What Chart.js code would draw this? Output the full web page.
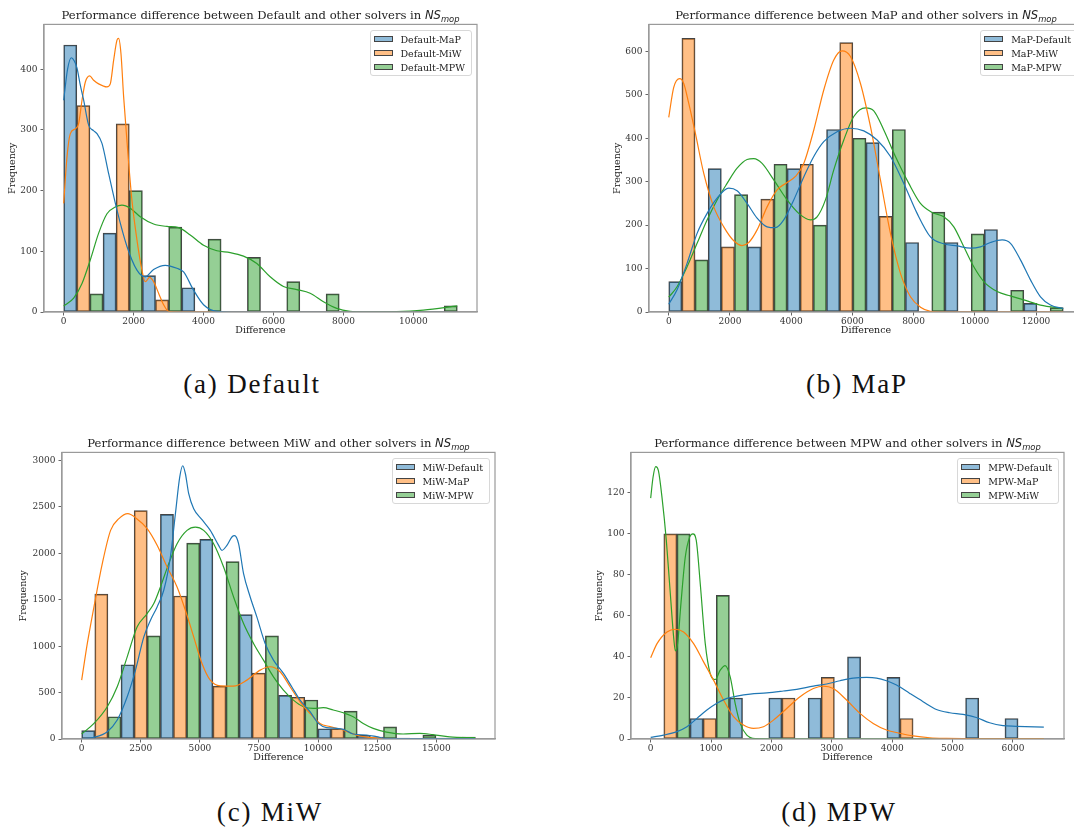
<!DOCTYPE html>
<html><head><meta charset="utf-8">
<script src="https://cdn.jsdelivr.net/npm/chart.js@4.4.1/dist/chart.umd.min.js"></script>
<style>
html,body{margin:0;padding:0;width:1074px;height:830px;overflow:hidden;background:#fff;}
body{position:relative;}
.box{position:absolute;}
.title{position:absolute;font-family:'DejaVu Serif';font-size:11.6px;color:#222;white-space:nowrap;transform:translate(-50%,-50%);line-height:1;}
.title .m{font-family:'DejaVu Sans';font-style:italic;}
.title sub{font-size:72%;vertical-align:-0.3em;line-height:0;}
.cap{position:absolute;font-family:'Liberation Serif';font-size:27px;letter-spacing:1.8px;color:#111;white-space:nowrap;transform:translate(-50%,-50%);line-height:1;}
.legend{position:absolute;background:rgba(255,255,255,0.85);border:1px solid #d8d8d8;border-radius:3px;padding:1px 6px 1px 3px;font-family:'DejaVu Serif';font-size:9.5px;color:#222;}
.legend .row{display:flex;align-items:center;height:14px;white-space:nowrap;}
.legend .sw{width:19px;height:6px;border:1px solid #444;margin-right:8px;box-sizing:border-box;}
</style>
</head><body>
<script>
// ---------- shared ----------
const fillColors = ['rgba(31,119,180,0.5)','rgba(255,127,14,0.5)','rgba(44,160,44,0.5)'];
const lineColors = ['#1f77b4','#ff7f0e','#2ca02c'];

// ---------- (a) Default ----------
const titleA = 'Default';
const labelsA = ['Default-MaP','Default-MiW','Default-MPW'];
const edgesA = [0,1126,2251,3377,4503,5629,6754,7880,9006,10131,11257];
const countsA1 = [440,130,60,40,0,0,0,0,0,0];
const countsA2 = [340,310,20,0,0,0,0,0,0,0];
const countsA3 = [30,200,140,120,90,50,30,0,0,10];
const kdeA1 = [[0,349],[110,400],[219,419],[300,414],[381,402],[471,375],[571,349],[714,308],[852,299],[952,294],[1095,278],[1286,228],[1524,168],[1810,108],[2095,69],[2333,58],[2571,70],[2905,77],[3238,72],[3429,66],[3714,36],[4000,12],[4381,1],[4800,0],[11257,0]];
const kdeA2 = [[0,179],[95,256],[190,294],[333,302],[429,311],[524,349],[619,379],[743,389],[857,382],[1000,376],[1238,371],[1333,376],[1429,415],[1524,448],[1571,451],[1638,426],[1714,355],[1829,267],[1952,184],[2095,119],[2238,69],[2333,50],[2457,57],[2571,50],[2714,31],[2857,12],[3000,1],[3300,0],[11257,0]];
const kdeA3 = [[0,10],[286,23],[524,47],[762,86],[1000,130],[1238,162],[1476,173],[1667,176],[1905,171],[2190,157],[2571,145],[2952,141],[3286,139],[3619,127],[4000,110],[4381,101],[4762,98],[5143,92],[5524,80],[5905,58],[6286,42],[6667,37],[7048,31],[7429,17],[7810,6],[8190,1],[8571,0],[9524,0.5],[10286,3],[11257,10]];
const xRangeA = [-563,11820], yMaxA = 474;
const xTicksA = [0,2000,4000,6000,8000,10000];
const yTicksA = [0,100,200,300,400];

// ---------- (b) MaP ----------
const titleB = 'MaP';
const labelsB = ['MaP-Default','MaP-MiW','MaP-MPW'];
const edgesB = [0,1289,2578,3867,5156,6445,7734,9023,10312,11601,12890];
const countsB1 = [70,330,150,330,420,390,160,160,190,20];
const countsB2 = [630,150,260,340,620,220,0,0,0,0];
const countsB3 = [120,270,340,200,400,420,230,180,50,10];
const kdeB1 = [[0,18],[272,51],[599,112],[926,181],[1253,227],[1580,262],[1961,285],[2233,279],[2560,250],[2887,216],[3214,196],[3486,194],[3758,212],[4085,258],[4412,311],[4739,358],[5065,392],[5501,415],[5937,423],[6373,417],[6808,396],[7244,358],[7680,296],[8115,227],[8551,173],[8987,157],[9423,152],[9858,147],[10185,150],[10512,160],[10893,166],[11166,158],[11492,120],[11819,74],[12146,35],[12473,16],[12887,8]];
const kdeB2 = [[0,448],[163,517],[359,537],[490,526],[654,480],[871,411],[1144,319],[1471,242],[1797,196],[2124,164],[2397,153],[2614,160],[2887,189],[3214,242],[3540,281],[3867,298],[4139,312],[4412,342],[4739,419],[5065,511],[5392,580],[5664,601],[5937,588],[6264,526],[6590,427],[6917,304],[7244,181],[7571,89],[7898,35],[8224,11],[8551,1.5],[8878,0],[12890,0]];
const kdeB3 = [[0,34],[272,58],[599,104],[926,158],[1253,212],[1580,258],[1906,296],[2233,331],[2560,351],[2778,353],[3050,342],[3431,304],[3867,258],[4248,227],[4630,212],[4847,219],[5120,258],[5392,327],[5719,396],[6046,450],[6427,470],[6699,463],[7026,419],[7407,358],[7843,296],[8224,250],[8606,229],[8987,219],[9314,196],[9641,150],[9967,104],[10294,70],[10730,47],[11166,37],[11601,28],[12146,16],[12887,8]];
const xRangeB = [-645,13535], yMaxB = 662;
const xTicksB = [0,2000,4000,6000,8000,10000,12000];
const yTicksB = [0,100,200,300,400,500,600];

// ---------- (c) MiW ----------
const titleC = 'MiW';
const labelsC = ['MiW-Default','MiW-MaP','MiW-MPW'];
const edgesC = [0,1665,3330,4995,6660,8325,9990,11655,13320,14985,16650];
const countsC1 = [90,800,2420,2150,1340,470,110,40,10,10];
const countsC2 = [1560,2460,1540,570,710,450,110,20,0,0];
const countsC3 = [240,1110,2110,1910,1110,420,300,130,40,20];
const kdeC1 = [[0,0],[520,18],[1083,79],[1504,204],[1926,455],[2277,742],[2629,1100],[2910,1280],[3191,1423],[3472,1602],[3753,1961],[3965,2427],[4147,2821],[4274,2943],[4387,2857],[4527,2642],[4738,2480],[5089,2362],[5440,2247],[5792,2086],[5932,2032],[6143,2086],[6354,2176],[6467,2190],[6636,2104],[6847,1781],[7128,1530],[7409,1315],[7760,1029],[8112,849],[8534,706],[8885,563],[9237,419],[9658,294],[10010,168],[10361,122],[10783,115],[11134,97],[11486,54],[12048,43],[12470,25],[12892,4],[14298,4],[16646,3]];
const kdeC2 = [[0,634],[239,1029],[520,1423],[872,1889],[1223,2247],[1575,2373],[1954,2427],[2277,2384],[2770,2265],[3191,2086],[3613,1853],[4035,1638],[4387,1387],[4738,1100],[5089,814],[5440,634],[5862,573],[6425,570],[6987,634],[7550,742],[7971,778],[8393,724],[8815,563],[9237,401],[9658,276],[10080,168],[10502,133],[10924,108],[11345,68],[11767,32],[12189,18],[12751,4],[14298,0],[16646,0]];
const kdeC3 = [[0,54],[520,168],[1083,348],[1504,563],[1926,885],[2348,1208],[2770,1351],[3051,1459],[3332,1638],[3683,1889],[4035,2104],[4457,2247],[4808,2283],[5160,2247],[5581,2104],[6003,1853],[6425,1530],[6847,1244],[7269,1029],[7690,849],[8112,670],[8534,527],[8956,419],[9377,348],[9799,330],[10221,337],[10643,312],[11064,283],[11486,240],[11908,168],[12330,115],[12892,75],[13595,54],[14298,61],[14860,47],[15563,22],[16646,14]];
const xRangeC = [-832,17482], yMaxC = 3087;
const xTicksC = [0,2500,5000,7500,10000,12500,15000];
const yTicksC = [0,500,1000,1500,2000,2500,3000];

// ---------- (d) MPW ----------
const titleD = 'MPW';
const labelsD = ['MPW-Default','MPW-MaP','MPW-MiW'];
const edgesD = [0,652,1304,1956,2608,3260,3912,4564,5216,5868,6520];
const countsD1 = [0,10,20,20,20,40,30,0,20,10];
const countsD2 = [100,10,0,20,30,0,10,0,0,0];
const countsD3 = [100,70,0,0,0,0,0,0,0,0];
const kdeD1 = [[0,0.8],[215,1.9],[435,3.6],[601,6],[766,10],[931,14.1],[1096,17.4],[1262,19.8],[1427,20.9],[1647,21.9],[1923,22.5],[2198,23.4],[2419,24.2],[2694,25.8],[2915,26.8],[3135,28.4],[3355,29.7],[3576,30],[3741,29.7],[3906,28.4],[4072,26.3],[4292,22.2],[4512,18.2],[4733,14.4],[4953,12.8],[5174,12],[5394,10.5],[5614,7.9],[5835,6.5],[6055,6.2],[6512,5.8]];
const kdeD2 = [[0,39.6],[105,46.5],[270,52.2],[408,53.5],[545,52.2],[711,46.5],[876,37.6],[1041,28.7],[1207,19],[1372,10.9],[1537,6.8],[1702,5.2],[1868,6],[2033,9.2],[2253,14.9],[2474,20.6],[2694,24.6],[2860,25.8],[3025,24.6],[3245,19],[3466,12.5],[3686,7.6],[3906,4.4],[4127,2.8],[4347,1.5],[4623,0.6],[4898,0.3],[5449,0.1],[6512,0.1]];
const kdeD3 = [[0,117.4],[39,127.6],[83,132.8],[127,130.9],[187,117.9],[259,96.8],[325,70.9],[380,49.8],[408,43],[446,46.5],[501,66],[573,88.7],[645,98.4],[700,100],[755,96.8],[821,75.7],[904,46.5],[986,31.9],[1069,29],[1152,33.6],[1234,35.8],[1317,30.3],[1399,17.4],[1482,7.6],[1592,1.9],[1730,0.2],[2143,0],[6512,0]];
const xRangeD = [-326,6846], yMaxD = 139.7;
const xTicksD = [0,1000,2000,3000,4000,5000,6000];
const yTicksD = [0,20,40,60,80,100,120];

// ---------- layout (plot-area boxes on the page) ----------
const panels = [
  {id:'a', cap:'(a) Default', name:titleA, labels:labelsA, edges:edgesA, counts:[countsA1,countsA2,countsA3], kde:[kdeA1,kdeA2,kdeA3], xr:xRangeA, ymax:yMaxA, xt:xTicksA, yt:yTicksA, L:44, R:477, T:24, B:312, ytGap:31, capX:252, capY:384},
  {id:'b', cap:'(b) MaP', name:titleB, labels:labelsB, edges:edgesB, counts:[countsB1,countsB2,countsB3], kde:[kdeB1,kdeB2,kdeB3], xr:xRangeB, ymax:yMaxB, xt:xTicksB, yt:yTicksB, L:649, R:1083, T:24, B:312, ytGap:31, capX:857, capY:384},
  {id:'c', cap:'(c) MiW', name:titleC, labels:labelsC, edges:edgesC, counts:[countsC1,countsC2,countsC3], kde:[kdeC1,kdeC2,kdeC3], xr:xRangeC, ymax:yMaxC, xt:xTicksC, yt:yTicksC, L:62, R:495, T:452, B:739, ytGap:38, capX:270, capY:812},
  {id:'d', cap:'(d) MPW', name:titleD, labels:labelsD, edges:edgesD, counts:[countsD1,countsD2,countsD3], kde:[kdeD1,kdeD2,kdeD3], xr:xRangeD, ymax:yMaxD, xt:xTicksD, yt:yTicksD, L:631, R:1064, T:452, B:739, ytGap:31, capX:839, capY:812}
];

const YW = 44, XH = 26, PT = 8, PR = 10;
const tickFont = {family:'DejaVu Serif', size:9};
const titleFont = {family:'DejaVu Serif', size:9.5};

const frame = {
  id:'frame',
  afterDatasetsDraw(chart){
    const {ctx, chartArea:a} = chart;
    ctx.save(); ctx.strokeStyle = '#9a9a9a'; ctx.lineWidth = 1.2;
    ctx.strokeRect(a.left, a.top, a.right - a.left, a.bottom - a.top);
    ctx.restore();
  }
};

panels.forEach(p => {
  const w = (p.R - p.L) + YW + PR, h = (p.B - p.T) + XH + PT;
  const box = document.createElement('div');
  box.className = 'box';
  box.style.left = (p.L - YW) + 'px'; box.style.top = (p.T - PT) + 'px';
  box.style.width = w + 'px'; box.style.height = h + 'px';
  const cv = document.createElement('canvas');
  cv.width = w; cv.height = h; cv.style.width = w + 'px'; cv.style.height = h + 'px';
  box.appendChild(cv); document.body.appendChild(box);

  const datasets = [];
  p.counts.forEach((arr, s) => {
    const pts = [];
    arr.forEach((v, i) => {
      if (v > 0) {
        const slot = (p.edges[i+1] - p.edges[i]) / 3;
        pts.push({x: p.edges[i] + slot * (s + 0.5), y: v});
      }
    });
    datasets.push({type:'bar', label:p.labels[s], data:pts, backgroundColor:fillColors[s], borderColor:'#444', borderWidth:1, borderSkipped:false, grouped:false, barPercentage:1, categoryPercentage:1, order:2});
  });
  p.kde.forEach((arr, s) => {
    datasets.push({type:'line', label:p.labels[s] + ' KDE', data:arr.map(q => ({x:q[0], y:q[1]})), borderColor:lineColors[s], borderWidth:1.2, pointRadius:0, fill:false, cubicInterpolationMode:'monotone', order:1});
  });

  new Chart(cv, {
    type:'bar',
    data:{datasets},
    options:{
      responsive:false, animation:false, devicePixelRatio:1, events:[],
      layout:{padding:{top:PT, right:PR, left:0, bottom:0}},
      plugins:{legend:{display:false}, tooltip:{enabled:false}, title:{display:false}},
      scales:{
        x:{type:'linear', offset:false, min:p.xr[0], max:p.xr[1],
           afterBuildTicks: sc => { sc.ticks = p.xt.map(v => ({value:v})); },
           afterFit: sc => { sc.height = XH; },
           ticks:{font:tickFont, color:'#333', padding:1, maxRotation:0, autoSkip:false, callback:v => String(v)},
           grid:{drawOnChartArea:false, drawTicks:true, tickLength:3.5, color:'#666', offset:false},
           border:{display:true, color:'#9a9a9a', width:1.2},
           title:{display:true, text:'Difference', font:titleFont, color:'#222', padding:{top:0, bottom:1.3}}},
        y:{type:'linear', min:0, max:p.ymax,
           afterBuildTicks: sc => { sc.ticks = p.yt.map(v => ({value:v})); },
           afterFit: sc => { sc.width = YW; },
           ticks:{font:tickFont, color:'#333', padding:3, callback:v => String(v)},
           grid:{drawOnChartArea:false, drawTicks:true, tickLength:3.5, color:'#666'},
           border:{display:true, color:'#9a9a9a', width:1.2},
           title:{display:true, text:'Frequency', font:titleFont, color:'#222', padding:{top:YW - p.ytGap - 5.7, bottom:0}}}
      }
    },
    plugins:[frame]
  });

  // title
  const t = document.createElement('div');
  t.className = 'title';
  t.style.left = ((p.L + p.R) / 2) + 'px'; t.style.top = (p.T - 8) + 'px';
  t.innerHTML = 'Performance difference between ' + p.name + ' and other solvers in <span class="m">NS<sub>mop</sub></span>';
  document.body.appendChild(t);

  // legend
  const lg = document.createElement('div');
  lg.className = 'legend';
  lg.style.right = (1074 - (p.R - 5)) + 'px'; lg.style.top = (p.T + 6) + 'px';
  p.labels.forEach((lab, s) => {
    const r = document.createElement('div'); r.className = 'row';
    const sw = document.createElement('span'); sw.className = 'sw'; sw.style.background = fillColors[s];
    const tx = document.createElement('span'); tx.textContent = lab;
    r.appendChild(sw); r.appendChild(tx); lg.appendChild(r);
  });
  document.body.appendChild(lg);

  // caption
  const c = document.createElement('div');
  c.className = 'cap';
  c.style.left = p.capX + 'px'; c.style.top = p.capY + 'px';
  c.textContent = p.cap;
  document.body.appendChild(c);
});
</script>
</body></html>
